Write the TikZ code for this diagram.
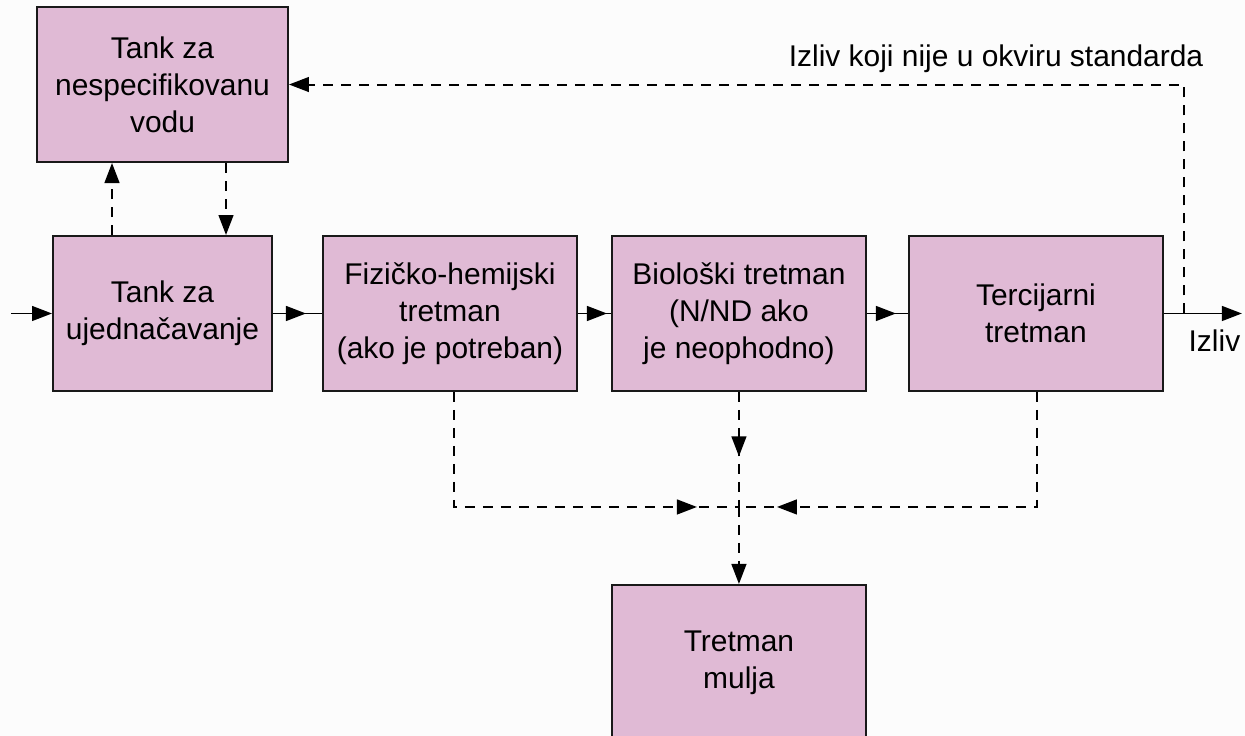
\documentclass[tikz,border=0pt]{standalone}
\usepackage{fontspec}
\setmainfont{Liberation Sans}
\usetikzlibrary{arrows.meta,positioning,decorations.markings}

\definecolor{boxpink}{RGB}{224,186,213}
\definecolor{bgpaper}{RGB}{252,252,252}

\begin{document}
\begin{tikzpicture}[>={Triangle[length=0.5cm,width=0.37cm]},line width=1.4pt,
                    every node/.style={font=\fontsize{21.3}{26.3}\selectfont},
                    tank/.style={rectangle,draw=black!90,fill=boxpink,align=center,
                                 minimum width=6.35cm,minimum height=3.875cm,inner sep=0pt},
                    dline/.style={dash pattern=on 0.25cm off 0.2cm},
                    mid arrow/.style={postaction={decorate},
                                      decoration={markings,mark=at position #1 with {\arrow{>}}}}]
  \fill[bgpaper] (0,0) rectangle (31.125,18.4);
  \useasboundingbox (0,0) rectangle (31.125,18.4);

  % main line
  \node[tank,minimum width=5.475cm] (equal) at (4.0625,10.5625) {Tank za\\ujednačavanje};
  \node[tank,right=1.225cm of equal] (fiz) {Fizičko-hemijski\\tretman\\(ako je potreban)};
  \node[tank,right=0.825cm of fiz] (bio) {Biološki tretman\\(N/ND ako\\je neophodno)};
  \node[tank,right=1.025cm of bio] (terc) {Tercijarni\\tretman};
  \node[tank,minimum width=6.275cm,above=1.8cm of equal] (nesp) {Tank za\\nespecifikovanu\\vodu};
  \node[tank,minimum height=3.9cm,below=4.8cm of bio] (mulj) {Tretman\\mulja};

  \coordinate[left=1.025cm of equal.west] (in);
  \coordinate[right=1.95cm of terc.east] (out);
  \coordinate[right=0.5cm of terc.east] (tap);
  \coordinate[below=2.875cm of bio.south] (junc);
  \coordinate (corner) at (tap |- nesp.east);

  \draw[->] (in) -- (equal);
  \draw[mid arrow=-0.4cm] (equal) -- (fiz);
  \draw[mid arrow=-0.1cm] (fiz) -- (bio);
  \draw[mid arrow=-0.3cm] (bio) -- (terc);
  \draw[->] (terc) -- (out);
  \node[anchor=base east] (izliv) at ([xshift=0.1cm,yshift=-0.9625cm]out) {Izliv};

  % off-spec water
  \draw[dline,->] (tap) |- (nesp.east);
  \node[anchor=base east] (offspec) at ([xshift=0.625cm,yshift=0.45cm]corner)
    {Izliv koji nije u okviru standarda};
  \draw[dline,->] ([xshift=-1.2625cm]equal.north) -- ([xshift=-1.2625cm]nesp.south);
  \draw[dline,->] ([xshift=1.5875cm]nesp.south) -- ([xshift=1.5875cm]equal.north);

  % sludge
  \draw[dline,mid arrow=-1.05cm] ([xshift=0.1cm]fiz.south) |- (junc);
  \draw[dline,mid arrow=-0.95cm] ([xshift=0.025cm]terc.south) |- (junc);
  \draw[dline,mid arrow=0.56] (bio.south) -- (junc);
  \draw[dline,->] (junc) -- (mulj);
\end{tikzpicture}
\end{document}
